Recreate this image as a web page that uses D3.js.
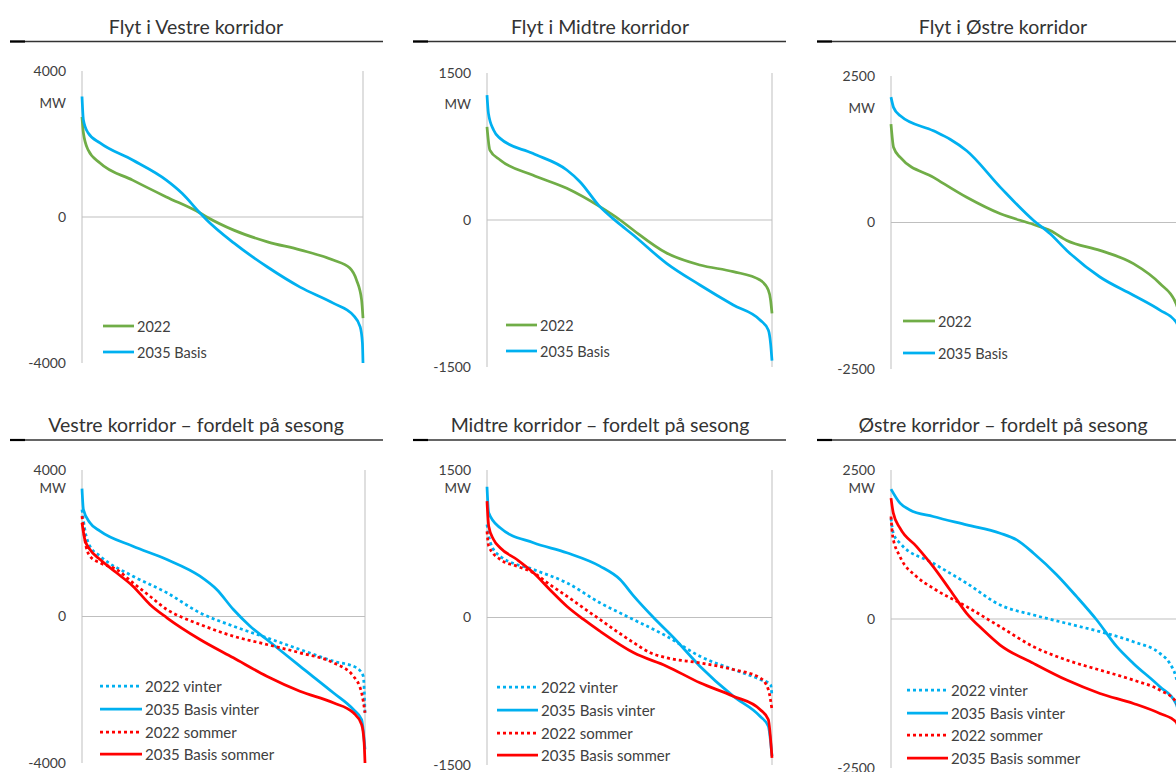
<!DOCTYPE html>
<html><head><meta charset="utf-8">
<script src="https://cdn.jsdelivr.net/npm/d3@7"></script>
<style>
html,body{margin:0;padding:0;background:#fff;overflow:hidden;}
svg{display:block;font-family:Lato,"Open Sans",sans-serif;}
</style></head>
<body><svg id="c" width="1176" height="772"></svg>
<script>
// ---------- data ----------
const panelTitles = [
  "Flyt i Vestre korridor", "Flyt i Midtre korridor", "Flyt i Østre korridor",
  "Vestre korridor – fordelt på sesong", "Midtre korridor – fordelt på sesong", "Østre korridor – fordelt på sesong"
];
const yLimits = [4000, 1500, 2500, 4000, 1500, 2500];
const unitLabel = "MW";
const legendTop = ["2022", "2035 Basis"];
const legendBottom = ["2022 vinter", "2035 Basis vinter", "2022 sommer", "2035 Basis sommer"];

// x = share of hours (%), y = flow (MW), sorted duration curves
const vestre2022 = [[0,2740],[0.5,2300],[2.2,1835],[6.4,1480],[18,1010],[30,550],[42,110],[44.4,0],[54,-360],[66,-680],[77.6,-900],[89.4,-1180],[95.3,-1400],[97.7,-1730],[99.5,-2270],[100,-2770]];
const vestre2035 = [[0,3300],[0.5,2660],[2.2,2300],[6.4,2030],[18,1560],[30,1010],[35.6,650],[42,110],[44.4,-80],[54,-710],[66,-1370],[77.6,-1920],[89.4,-2360],[96.5,-2690],[99,-3010],[99.8,-3460],[100,-4000]];
const midtre2022 = [[0,950],[1,714],[4.6,612],[16,459],[28,323],[39.6,136],[46.7,0],[51.3,-102],[63,-337],[74.7,-459],[86.4,-527],[95.8,-612],[98.7,-714],[99.5,-816],[100,-952]];
const midtre2035 = [[0,1275],[0.5,1088],[2.3,918],[4.6,833],[16,680],[28,510],[32.6,391],[39.6,136],[45.5,-17],[51.3,-153],[63,-442],[74.7,-663],[86.4,-867],[95.8,-1020],[98.7,-1122],[99.5,-1258],[100,-1435]];
const ostre2022 = [[0,1680],[0.9,1280],[3.2,1110],[14.6,770],[26,430],[37.6,148],[49,-34],[54.7,-136],[60.4,-306],[71.8,-476],[83.3,-702],[92.4,-1042],[97.9,-1377],[99.5,-1750],[100,-2200]];
const ostre2035 = [[0,2140],[0.9,1960],[3.2,1820],[14.6,1564],[20.3,1420],[26,1224],[37.6,600],[49,34],[54.7,-192],[60.4,-476],[71.8,-930],[83.3,-1241],[92.4,-1496],[97.9,-1695],[99.5,-1950],[100,-2450]];

const vestre2022Vinter = [[0,2920],[1,2375],[2.8,1920],[6.4,1646],[18,1100],[30,647],[41.7,100],[53.5,-265],[65.3,-580],[77,-900],[88.8,-1220],[97,-1400],[99.4,-1630],[100,-2630]];
const vestre2035Vinter = [[0,3490],[0.5,2920],[2.8,2560],[6.4,2330],[18,1920],[30,1556],[41.7,1100],[47.6,737],[53.5,190],[59.4,-265],[65.3,-628],[77,-1356],[88.8,-2083],[95.9,-2540],[98.8,-2812],[100,-3630]];
const vestre2022Sommer = [[0,2740],[1,2100],[2.8,1646],[6.4,1466],[12.2,1283],[18,920],[24,554],[30,191],[35.8,-36],[41.7,-218],[53.5,-538],[65.3,-764],[77,-991],[88.8,-1264],[95.9,-1630],[98.8,-2083],[100,-2630]];
const vestre2035Sommer = [[0,2560],[1,2100],[2.8,1830],[6.4,1556],[12.2,1193],[18,827],[24,328],[30,-36],[41.7,-628],[53.5,-1128],[65.3,-1630],[77,-2040],[88.8,-2356],[95.9,-2630],[98.8,-2950],[99.7,-3450],[100,-4000]];

const midtre2022Vinter = [[0,946],[1.2,760],[4.6,623],[16.3,488],[28,353],[39.6,150],[49,13],[63,-190],[74.7,-394],[86.4,-529],[95.8,-630],[99.5,-681],[100,-800]];
const midtre2035Vinter = [[0,1330],[0.6,1065],[4.6,912],[16.3,760],[28,658],[39.6,522],[46.7,386],[51.5,217],[58.5,-3],[65.5,-206],[74.7,-495],[86.4,-800],[95.8,-1004],[98.7,-1105],[100,-1410]];
const midtre2022Sommer = [[0,877],[0.6,725],[4.6,590],[10.5,522],[16.3,455],[22,336],[28,217],[39.6,-20],[51.5,-257],[57.3,-359],[63,-410],[74.7,-461],[86.4,-529],[95.8,-613],[98.7,-732],[100,-936]];
const midtre2035Sommer = [[0,1183],[0.6,929],[2.3,793],[4.6,709],[10.5,590],[16.3,455],[22,285],[28,115],[33.9,-20],[39.6,-139],[51.5,-359],[63,-495],[74.7,-664],[86.4,-800],[95.8,-936],[98.7,-1037],[100,-1427]];

const ostre2022Vinter = [[0,1690],[0.8,1440],[3.1,1272],[14.5,936],[26,600],[37.5,235],[49,67],[60.4,-73],[71.8,-213],[83.3,-381],[92.4,-577],[95.8,-745],[97.9,-970],[100,-1500]];
const ostre2035Vinter = [[0,2180],[3.1,1944],[6.5,1830],[14.5,1720],[26,1580],[37.5,1440],[43.2,1327],[49,1104],[57,739],[63.8,375],[70.7,-17],[77.6,-465],[83.3,-745],[92.4,-1137],[97.9,-1417],[100,-1800]];
const ostre2022Sommer = [[0,1720],[0.6,1383],[3.1,1047],[8.8,711],[14.5,516],[26,207],[37.5,-129],[49,-465],[60.4,-689],[71.8,-857],[83.3,-1025],[92.4,-1193],[97.9,-1389],[100,-1800]];
const ostre2035Sommer = [[0,2028],[0.8,1776],[3.1,1524],[8.8,1215],[14.5,879],[20.3,487],[26,96],[31.7,-185],[37.5,-437],[49,-745],[60.4,-1025],[71.8,-1249],[83.3,-1417],[92.4,-1585],[97.9,-1725],[100,-2100]];

// ---------- layout & styles ----------
const GREEN = "#70AD47", BLUE = "#00B0F0", RED = "#FF0000";
const topStyles = [{c:GREEN, dash:null}, {c:BLUE, dash:null}];
const botStyles = [{c:BLUE, dash:"3 3"}, {c:BLUE, dash:null}, {c:RED, dash:"3 3"}, {c:RED, dash:null}];

const panels = [
  {l:82,  r:363,  t:71,  b:363, titleX:196,  titleY:26,  ulx0:10,  ulx1:383,  uly:41.5, series:[vestre2022, vestre2035], legX:103, legLen:31, legY:[326,352], mwY:103},
  {l:487, r:772,  t:73,  b:367, titleX:600,  titleY:26,  ulx0:413, ulx1:786,  uly:41.5, series:[midtre2022, midtre2035], legX:506, legLen:31, legY:[325,351], mwY:104},
  {l:891, r:1182, t:76,  b:369, titleX:1003, titleY:26,  ulx0:817, ulx1:1200, uly:41.5, series:[ostre2022, ostre2035], legX:903, legLen:32, legY:[321,353], mwY:108},
  {l:82,  r:365,  t:470, b:763, titleX:196,  titleY:424, ulx0:10,  ulx1:383,  uly:440, series:[vestre2022Vinter, vestre2035Vinter, vestre2022Sommer, vestre2035Sommer], legX:100, legLen:42, legY:[686,709,732,754], mwY:488},
  {l:487, r:772,  t:470, b:765, titleX:600,  titleY:424, ulx0:413, ulx1:786,  uly:440, series:[midtre2022Vinter, midtre2035Vinter, midtre2022Sommer, midtre2035Sommer], legX:497, legLen:41, legY:[687,710,733,755], mwY:488},
  {l:891, r:1182, t:470, b:768, titleX:1003, titleY:424, ulx0:817, ulx1:1200, uly:440, series:[ostre2022Vinter, ostre2035Vinter, ostre2022Sommer, ostre2035Sommer], legX:907, legLen:41, legY:[690,713,735,758], mwY:488}
];

const svg = d3.select("#c");

panels.forEach((p, i) => {
  const g = svg.append("g");
  const lim = yLimits[i];
  const x = d3.scaleLinear().domain([0, 100]).range([p.l, p.r]);
  const y = d3.scaleLinear().domain([-lim, lim]).range([p.b, p.t]);

  // title
  g.append("text").attr("x", p.titleX).attr("y", p.titleY).attr("text-anchor", "middle")
    .attr("dominant-baseline", "central").attr("font-size", 19.5).attr("fill", "#333333")
    .text(panelTitles[i]);
  g.append("line").attr("x1", p.ulx0).attr("x2", p.ulx1).attr("y1", p.uly).attr("y2", p.uly)
    .attr("stroke", "#333333").attr("stroke-width", 1.5);
  g.append("line").attr("x1", p.ulx0).attr("x2", p.ulx0 + 15).attr("y1", p.uly).attr("y2", p.uly)
    .attr("stroke", "#000").attr("stroke-width", 2.2);

  // axes
  const ax = d3.axisLeft(y).tickValues([-lim, 0, lim]).tickSize(0).tickPadding(16).tickFormat(d => String(d));
  const axG = g.append("g").attr("transform", `translate(${p.l},0)`).call(ax);
  axG.select(".domain").remove();
  axG.selectAll("text").attr("font-size", 14).attr("fill", "#404040").attr("font-family", "Lato,'Open Sans',sans-serif");

  g.append("text").attr("x", p.l - 16).attr("y", p.mwY).attr("text-anchor", "end")
    .attr("dominant-baseline", "central").attr("font-size", 13.5).attr("fill", "#404040").text(unitLabel);

  // gridlines
  g.append("line").attr("x1", x(0)).attr("x2", x(100)).attr("y1", y(0)).attr("y2", y(0))
    .attr("stroke", "#BFBFBF").attr("stroke-width", 1);
  g.append("line").attr("x1", x(0)).attr("x2", x(0)).attr("y1", y(lim)).attr("y2", y(-lim))
    .attr("stroke", "#BFBFBF").attr("stroke-width", 1);
  g.append("line").attr("x1", x(100)).attr("x2", x(100)).attr("y1", y(lim)).attr("y2", y(-lim))
    .attr("stroke", "#BFBFBF").attr("stroke-width", 1);

  const styles = i < 3 ? topStyles : botStyles;
  const labels = i < 3 ? legendTop : legendBottom;
  const legFont = i < 3 ? 14.5 : 15;
  const line = d3.line().x(d => x(d[0])).y(d => y(d[1])).curve(d3.curveMonotoneX);

  p.series.forEach((s, k) => {
    g.append("path").datum(s).attr("d", line).attr("fill", "none")
      .attr("stroke", styles[k].c).attr("stroke-width", 2.75)
      .attr("stroke-dasharray", styles[k].dash)
      .attr("stroke-linejoin", "round");
  });

  // legend
  labels.forEach((lab, k) => {
    const ly = p.legY[k];
    g.append("line").attr("x1", p.legX).attr("x2", p.legX + p.legLen).attr("y1", ly).attr("y2", ly)
      .attr("stroke", styles[k].c).attr("stroke-width", 2.75).attr("stroke-dasharray", styles[k].dash);
    g.append("text").attr("x", p.legX + p.legLen + 3).attr("y", ly).attr("dominant-baseline", "central")
      .attr("font-size", legFont).attr("fill", "#404040").text(lab);
  });
});
</script></body></html>
